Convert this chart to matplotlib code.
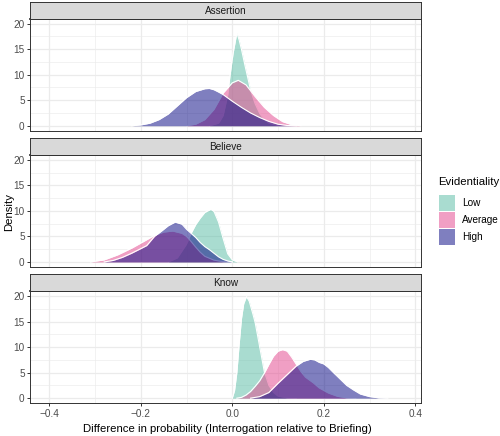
import matplotlib
matplotlib.use("Agg")
import matplotlib.pyplot as plt
from matplotlib.patches import Rectangle

plt.rcParams['font.family'] = ['Liberation Sans', 'DejaVu Sans']

facets = ["Assertion", "Believe", "Know"]
groups = ["Low", "Average", "High"]

# ---- Assertion ----
assert_low_x = [-0.05, -0.03, -0.02, -0.01, -0.005, 0.002, 0.010, 0.015, 0.020, 0.028, 0.040, 0.050, 0.060, 0.070, 0.080, 0.100, 0.120]
assert_low_y = [0.0, 0.5, 2.0, 6.0, 9.8, 14.3, 18.2, 16.8, 15.0, 11.7, 7.0, 4.3, 2.4, 1.2, 0.5, 0.1, 0.0]
assert_avg_x = [-0.10, -0.08, -0.06, -0.04, -0.02, 0.0, 0.013, 0.03, 0.05, 0.07, 0.09, 0.11, 0.13, 0.15]
assert_avg_y = [0.0, 0.3, 1.2, 3.2, 6.4, 8.4, 8.9, 8.0, 5.7, 3.6, 2.0, 0.8, 0.2, 0.0]
assert_high_x = [-0.22, -0.20, -0.18, -0.16, -0.14, -0.12, -0.10, -0.08, -0.06, -0.05, -0.04, -0.03, -0.02, 0.0, 0.02, 0.04, 0.06, 0.08, 0.10, 0.12, 0.14]
assert_high_y = [0.0, 0.15, 0.5, 1.2, 2.3, 3.9, 5.5, 6.7, 7.25, 7.3, 7.05, 6.6, 6.1, 4.8, 3.6, 2.5, 1.6, 0.85, 0.3, 0.05, 0.0]

# ---- Believe ----
believe_low_x = [-0.14, -0.12, -0.10, -0.09, -0.08, -0.07, -0.06, -0.047, -0.04, -0.03, -0.02, -0.01, 0.0, 0.012]
believe_low_y = [0.0, 0.8, 3.5, 5.6, 7.3, 8.6, 9.7, 10.3, 9.9, 7.8, 4.6, 1.6, 0.4, 0.0]
believe_avg_x = [-0.31, -0.28, -0.25, -0.22, -0.19, -0.17, -0.15, -0.13, -0.11, -0.10, -0.09, -0.08, -0.07, -0.06, -0.04, -0.02, 0.0]
believe_avg_y = [0.0, 0.4, 1.4, 2.7, 4.2, 5.2, 5.85, 6.05, 5.6, 5.0, 4.0, 2.9, 1.9, 1.1, 0.35, 0.05, 0.0]
believe_high_x = [-0.28, -0.26, -0.24, -0.22, -0.20, -0.187, -0.17, -0.154, -0.14, -0.125, -0.11, -0.10, -0.09, -0.08, -0.07, -0.06, -0.05, -0.04, -0.03, -0.02, -0.01, 0.0]
believe_high_y = [0.0, 0.3, 0.9, 1.7, 2.6, 3.2, 5.0, 6.1, 7.1, 7.8, 7.4, 6.4, 5.6, 4.8, 3.8, 3.0, 2.4, 1.7, 1.0, 0.5, 0.2, 0.0]

# ---- Know ----
know_low_x = [0.0, 0.005, 0.010, 0.015, 0.020, 0.025, 0.031, 0.037, 0.045, 0.050, 0.060, 0.070, 0.080, 0.090, 0.100, 0.120, 0.140]
know_low_y = [0.0, 1.5, 5.0, 10.5, 15.5, 18.5, 19.9, 19.0, 16.5, 14.8, 10.0, 5.2, 2.5, 1.1, 0.4, 0.05, 0.0]
know_avg_x = [0.01, 0.02, 0.03, 0.04, 0.05, 0.06, 0.07, 0.08, 0.09, 0.10, 0.11, 0.12, 0.13, 0.14, 0.15, 0.16, 0.177, 0.19, 0.21, 0.23, 0.25, 0.27]
know_avg_y = [0.0, 0.15, 0.6, 1.3, 2.3, 3.4, 4.9, 6.6, 8.2, 9.2, 9.5, 9.2, 8.0, 6.6, 5.2, 4.1, 3.0, 2.0, 1.0, 0.35, 0.05, 0.0]
know_high_x = [0.04, 0.06, 0.08, 0.10, 0.12, 0.14, 0.155, 0.17, 0.18, 0.19, 0.20, 0.21, 0.22, 0.235, 0.25, 0.265, 0.28, 0.30, 0.32, 0.34]
know_high_y = [0.0, 0.3, 1.1, 2.9, 4.6, 6.3, 7.2, 7.6, 7.5, 7.0, 6.7, 6.0, 5.1, 3.8, 2.5, 1.6, 0.8, 0.3, 0.05, 0.0]

panel_series = [
    [(assert_low_x, assert_low_y), (assert_avg_x, assert_avg_y), (assert_high_x, assert_high_y)],
    [(believe_low_x, believe_low_y), (believe_avg_x, believe_avg_y), (believe_high_x, believe_high_y)],
    [(know_low_x, know_low_y), (know_avg_x, know_avg_y), (know_high_x, know_high_y)],
]

fill_colors = ["#55bba3", "#e3418a", "#000080"]
fill_alpha = 0.5

x_major = [-0.4, -0.2, 0.0, 0.2, 0.4]
x_minor = [-0.3, -0.1, 0.1, 0.3]
y_major = [0, 5, 10, 15, 20]
y_minor = [2.5, 7.5, 12.5, 17.5]

W, H = 500, 436
fig = plt.figure(figsize=(W / 100, H / 100), dpi=100)

left_px, right_px = 30.3, 421.0
strip_h = 17.0
panel_h = 112.0
first_top = 19.0
step = 136.2

grid_col = "#ebebeb"
border_col = "#333333"
small_fs = 7.2
title_fs = 8.2

for i, name in enumerate(facets):
    top = first_top + step * i
    ax = fig.add_axes([left_px / W, 1 - (top + panel_h) / H, (right_px - left_px) / W, panel_h / H])
    sax = fig.add_axes([left_px / W, 1 - top / H, (right_px - left_px) / W, strip_h / H])

    ax.set_xlim(-0.4415, 0.4125)
    ax.set_ylim(-1.03, 20.91)
    for v in x_minor:
        ax.axvline(v, color=grid_col, lw=0.45, zorder=0)
    for v in y_minor:
        ax.axhline(v, color=grid_col, lw=0.45, zorder=0)
    for v in x_major:
        ax.axvline(v, color=grid_col, lw=0.9, zorder=0)
    for v in y_major:
        ax.axhline(v, color=grid_col, lw=0.9, zorder=0)

    for (xs, ys), col in zip(panel_series[i], fill_colors):
        ax.fill_between(xs, 0, ys, color=col, alpha=fill_alpha, lw=0, zorder=2)
        ax.plot(xs, ys, color="white", lw=0.8, zorder=2, solid_joinstyle="round")

    ax.set_yticks(y_major)
    ax.set_yticklabels([str(v) for v in y_major])
    ax.set_xticks(x_major)
    ax.tick_params(axis="y", length=2.5, width=0.7, color=border_col, labelsize=small_fs,
                   labelcolor="#4d4d4d", pad=1.5)
    if i == 2:
        ax.set_xticklabels(["\u22120.4", "\u22120.2", "0.0", "0.2", "0.4"])
        ax.tick_params(axis="x", length=2.5, width=0.7, color=border_col, labelsize=small_fs,
                       labelcolor="#4d4d4d", pad=1.5)
    else:
        ax.tick_params(axis="x", length=0, labelbottom=False)
    for s in ax.spines.values():
        s.set_color(border_col)
        s.set_linewidth(0.7)
    ax.spines["top"].set_linewidth(1.3)

    sax.set_facecolor("#d9d9d9")
    sax.set_xticks([])
    sax.set_yticks([])
    for s in sax.spines.values():
        s.set_color(border_col)
        s.set_linewidth(0.7)
    sax.text(0.5, 0.47, name, ha="center", va="center", fontsize=small_fs, color="#1a1a1a",
             transform=sax.transAxes)

fig.text(227 / W, 1 - 429 / H, "Difference in probability (Interrogation relative to Briefing)",
         ha="center", va="center", fontsize=title_fs, color="black")
fig.text(9.5 / W, 1 - 212 / H, "Density", ha="center", va="center", rotation=90,
         fontsize=title_fs, color="black")

# legend drawn in figure pixel positions
fig.text(438 / W, 1 - 182 / H, "Evidentiality", ha="left", va="center",
         fontsize=title_fs, color="black")
key_size = 16.0
key_tops = [195.0, 212.0, 229.0]
for lab, col, kt in zip(groups, fill_colors, key_tops):
    fig.add_artist(Rectangle((439 / W, 1 - (kt + key_size) / H), key_size / W, key_size / H,
                             transform=fig.transFigure, facecolor=col, alpha=fill_alpha,
                             edgecolor="none"))
    fig.text(462 / W, 1 - (kt + key_size / 2) / H, lab, ha="left", va="center",
             fontsize=small_fs, color="black")

fig.savefig("out.png", dpi=100)
